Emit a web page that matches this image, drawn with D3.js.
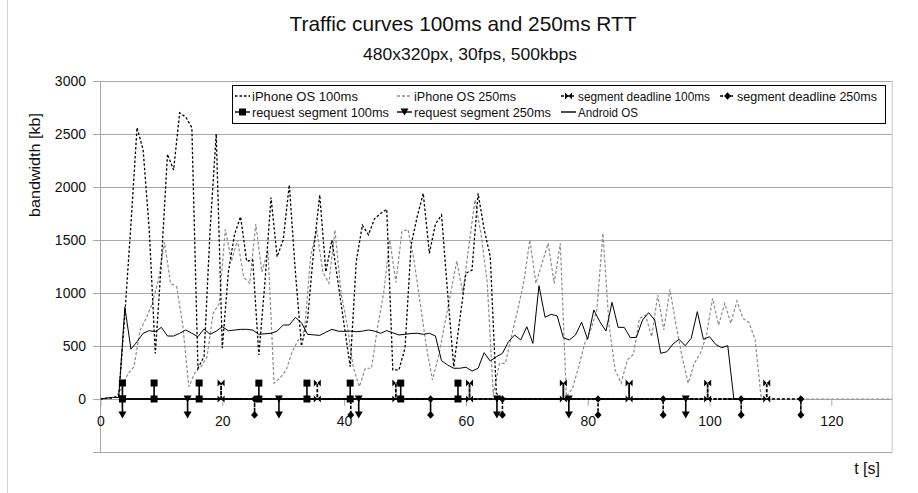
<!DOCTYPE html>
<html>
<head>
<meta charset="utf-8">
<script src="https://cdn.jsdelivr.net/npm/d3@7"></script>
<style>
  body { margin: 0; background: #fff; }
  svg { display: block; font-family: "Liberation Sans", Arial, sans-serif; }
</style>
</head>
<body>
<svg id="chart" width="918" height="493"></svg>
<script>
// Bandwidth samples [kb], one per second starting at t = 0 s
const androidOS = [0,10,15,15,865,470,540,620,645,635,676,594,594,620,651,620,588,660,610,640,
  682,644,650,657,657,650,610,615,620,640,698,698,770,720,610,605,600,630,657,640,
  638,641,635,640,651,641,620,645,625,604,610,618,620,610,620,594,361,321,290,290,
  300,264,290,437,358,399,431,541,604,557,682,525,1069,771,799,783,578,557,604,724,
  563,840,729,641,912,676,676,578,582,745,814,745,431,446,519,563,503,573,824,563,
  588,516,484,503,0,0,0,0,0];

const iphone100 = [0,5,10,30,800,1650,2560,2350,1600,430,1300,2310,2160,2700,2660,2560,290,400,1600,2500,
  480,1200,1550,1720,1300,1311,415,1100,1900,1342,1500,2020,1200,500,750,1400,1925,1200,1500,1100,
  700,305,1300,1640,1550,1700,1750,1790,274,274,480,1450,1720,1940,1374,1650,1736,1000,305,750,
  1186,1217,1940,1600,1343,54,0,0,0,0,0,0,0,0,0,0,0,0,0,0,
  0,0,0,0,0,0,0,0,0,0,0,0,0,0,0,0,0,0,0,0,
  0,0,0,0,0,0,0,0,0];

// iPhone OS 250ms samples are logged on the half second (t = 0.5, 1.5, ...)
const iphone250 = [0,0,20,100,240,305,650,760,900,1123,1480,1091,1060,700,116,250,305,400,808,900,
  1600,1300,1500,1150,1091,1650,1200,1405,148,200,274,450,560,651,1342,1600,1200,1091,1594,1000,
  700,300,116,290,290,680,1000,1500,1100,1580,1600,1300,900,500,180,400,700,1000,1300,1000,
  1450,1880,1550,1100,40,337,337,600,840,1100,1500,1091,1280,1468,1091,1468,22,100,300,525,
  651,840,1563,700,274,148,368,420,761,790,588,981,651,1035,700,400,148,337,431,600,
  950,698,903,714,925,761,720,557,0,0,0,0,0,0,0,0,0,0,0,0,
  0,0,0,0,0,0,0,0,0,0,0];

// Event times [s]
const request100 = [3.6, 8.8, 16.2, 26.0, 33.9, 41.0, 49.3, 58.7];
const request250 = [3.6, 14.3, 29.3, 42.4, 65.1, 76.9, 96.1];
const deadline100 = [19.8, 35.6, 48.5, 60.6, 76.0, 86.8, 99.7, 109.4];
const deadline250 = [25.3, 41.1, 54.2, 66.0, 81.7, 92.4, 105.2, 115.0];
const eventLevel100 = 150;
const eventLevel250 = -150;

const yTicks = [0, 500, 1000, 1500, 2000, 2500, 3000];
const yGrid = [-500, 0, 500, 1000, 1500, 2000, 2500, 3000];
const xTicks = [0, 20, 40, 60, 80, 100, 120];

const svg = d3.select("#chart");
const W = 918, H = 493;
const pLeft = 100.5, pRight = 892.2, pTop = 81, pBottom = 452;

const x = d3.scaleLinear().domain([0, 130]).range([pLeft, pRight]);
const y = d3.scaleLinear().domain([-500, 3000]).range([pBottom, pTop]);

// chart frame
svg.append("line").attr("x1", 7.5).attr("x2", 7.5).attr("y1", 0).attr("y2", H)
  .attr("stroke", "#d4d4d4").attr("stroke-width", 1);

// titles
svg.append("text").attr("x", 463).attr("y", 31).attr("text-anchor", "middle")
  .attr("font-size", 21).attr("fill", "#111")
  .attr("textLength", 347).attr("lengthAdjust", "spacingAndGlyphs")
  .text("Traffic curves 100ms and 250ms RTT");
svg.append("text").attr("x", 470).attr("y", 60).attr("text-anchor", "middle")
  .attr("font-size", 17).attr("fill", "#111")
  .attr("textLength", 214).attr("lengthAdjust", "spacingAndGlyphs")
  .text("480x320px, 30fps, 500kbps");

// gridlines
const gy = svg.append("g").attr("transform", `translate(${pRight},0)`);
gy.call(d3.axisLeft(y).tickValues(yGrid).tickSize(pRight - 93).tickFormat(""));
gy.select(".domain").remove();
gy.selectAll(".tick line").attr("stroke", "#a8a8a8");

svg.append("g").selectAll("text").data(yTicks).join("text")
  .attr("x", 86).attr("y", d => y(d)).attr("dy", "0.35em")
  .attr("text-anchor", "end").attr("font-size", 14).attr("fill", "#111")
  .text(d => d);

// plot border
svg.append("line").attr("x1", pLeft).attr("x2", pLeft).attr("y1", pTop).attr("y2", pBottom)
  .attr("stroke", "#a8a8a8");
svg.append("line").attr("x1", pRight).attr("x2", pRight).attr("y1", pTop).attr("y2", pBottom)
  .attr("stroke", "#c8c8c8");

// x axis through zero
const gx = svg.append("g").attr("transform", `translate(0,${y(0)})`);
gx.call(d3.axisBottom(x).tickValues(xTicks).tickSize(7).tickPadding(10).tickFormat(d => d));
gx.select(".domain").remove();
gx.selectAll(".tick line").attr("stroke", "#a8a8a8");
gx.selectAll(".tick text").attr("font-size", 14).attr("fill", "#111")
  .attr("font-family", "Liberation Sans, Arial, sans-serif");

// axis titles
svg.append("text").attr("transform", `translate(40,165) rotate(-90)`)
  .attr("text-anchor", "middle").attr("font-size", 15).attr("fill", "#111")
  .attr("textLength", 104).attr("lengthAdjust", "spacingAndGlyphs")
  .text("bandwidth [kb]");
svg.append("text").attr("x", 880).attr("y", 474).attr("text-anchor", "end")
  .attr("font-size", 16).attr("fill", "#111").text("t [s]");

// clip
svg.append("clipPath").attr("id", "plotclip").append("rect")
  .attr("x", pLeft).attr("y", pTop - 5).attr("width", pRight - pLeft).attr("height", pBottom - pTop + 5);
const plot = svg.append("g").attr("clip-path", "url(#plotclip)");

const line = d3.line().x(d => x(d[0])).y(d => y(d[1]));

plot.append("path").datum(iphone250.map((v, i) => [i + 0.5, v]))
  .attr("d", line).attr("fill", "none").attr("stroke", "#8c8c8c")
  .attr("stroke-width", 1.2).attr("stroke-dasharray", "3,2");
plot.append("path").datum(iphone100.map((v, i) => [i, v]))
  .attr("d", line).attr("fill", "none").attr("stroke", "#000")
  .attr("stroke-width", 1.3).attr("stroke-dasharray", "2.5,2");
plot.append("path").datum(androidOS.map((v, i) => [i, v]))
  .attr("d", line).attr("fill", "none").attr("stroke", "#000").attr("stroke-width", 1);

// event series: each event drawn as a spike from zero to its level
function eventPoints(times, level) {
  return times.flatMap(t => [[t, 0], [t, level], [t, 0]]);
}
const markerPaths = {
  square: "M-3.5,-3.5H3.5V3.5H-3.5Z",
  triangle: "M-4,-3.5H4L0,3.5Z",
  diamond: "M0,-3.8L3.5,0L0,3.8L-3.5,0Z",
  bowtie: "M-3.5,-3.5L0,0L-3.5,3.5ZM3.5,-3.5L0,0L3.5,3.5Z"
};
const events = [
  { times: deadline250, level: eventLevel250, dash: "3,2", marker: "diamond", width: 1.6 },
  { times: deadline100, level: eventLevel100, dash: "3,2", marker: "bowtie", width: 1.8 },
  { times: request250, level: eventLevel250, dash: null, marker: "triangle", width: 1.6 },
  { times: request100, level: eventLevel100, dash: null, marker: "square", width: 1.6 }
];
events.forEach(s => {
  const pts = eventPoints(s.times, s.level);
  plot.append("path").datum(pts).attr("d", line).attr("fill", "none")
    .attr("stroke", "#000").attr("stroke-width", s.width)
    .attr("stroke-dasharray", s.dash);
  plot.append("g").selectAll("path")
    .data(s.times.flatMap(t => [[t, 0], [t, s.level]])).join("path")
    .attr("transform", d => `translate(${x(d[0])},${y(d[1])})`)
    .attr("d", markerPaths[s.marker]).attr("fill", "#000");
});

// legend
const lg = svg.append("g");
lg.append("rect").attr("x", 232.5).attr("y", 85.5).attr("width", 653).attr("height", 38)
  .attr("fill", "#fff").attr("stroke", "#000");
const legendItems = [
  { label: "iPhone OS 100ms", col: 0, row: 0, len: 106, stroke: "#000", dash: "2.5,2", marker: null },
  { label: "iPhone OS 250ms", col: 1, row: 0, len: 102, stroke: "#8c8c8c", dash: "3,2", marker: null },
  { label: "segment deadline 100ms", col: 2, row: 0, len: 132, stroke: "#000", dash: "3,2", marker: "bowtie" },
  { label: "segment deadline 250ms", col: 3, row: 0, len: 140, stroke: "#000", dash: "3,2", marker: "diamond" },
  { label: "request segment 100ms", col: 0, row: 1, len: 137, stroke: "#000", dash: null, marker: "square" },
  { label: "request segment 250ms", col: 1, row: 1, len: 137, stroke: "#000", dash: null, marker: "triangle" },
  { label: "Android OS", col: 2, row: 1, len: 60, stroke: "#000", dash: null, marker: null }
];
const colX = [235, 397, 561, 720];
const rowY = [96, 112];
legendItems.forEach(it => {
  const g = lg.append("g").attr("transform", `translate(${colX[it.col]},${rowY[it.row]})`);
  g.append("line").attr("x1", 0).attr("x2", 15).attr("stroke", it.stroke)
    .attr("stroke-width", 1.4).attr("stroke-dasharray", it.dash);
  if (it.marker) g.append("path").attr("transform", "translate(7.5,0)")
    .attr("d", markerPaths[it.marker]).attr("fill", "#000");
  g.append("text").attr("x", 17).attr("dy", "0.35em").attr("font-size", 13)
    .attr("fill", "#111").attr("textLength", it.len).attr("lengthAdjust", "spacingAndGlyphs")
    .text(it.label);
});
</script>
</body>
</html>
